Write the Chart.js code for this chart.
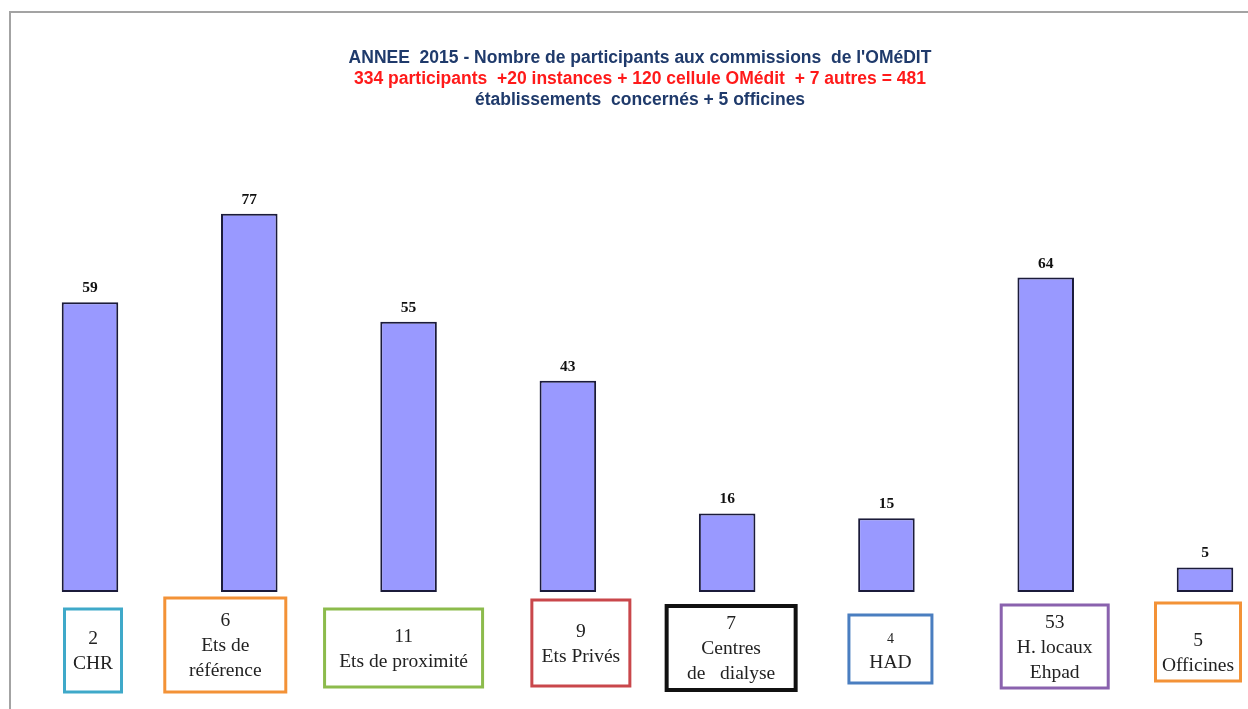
<!DOCTYPE html>
<html>
<head>
<meta charset="utf-8">
<script src="https://cdn.jsdelivr.net/npm/chart.js@4.4.1/dist/chart.umd.min.js"></script>
<style>
  html, body { margin: 0; padding: 0; background: #fff; overflow: hidden; }
  #wrap { position: relative; width: 1248px; height: 709px; }
</style>
</head>
<body>
<div id="wrap"><canvas id="graf" width="1248" height="709"></canvas></div>
<script>
// données
const categories = ["CHR", "Ets de référence", "Ets de proximité", "Ets Privés", "Centres de dialyse", "HAD", "H. locaux Ehpad", "Officines"];
const participants = [59, 77, 55, 43, 16, 15, 64, 5];
const etablissements = ["2", "6", "11", "9", "7", "4", "53", "5"];
const libelles = [["CHR"], ["Ets de", "référence"], ["Ets de proximité"], ["Ets Privés"], ["Centres", "de   dialyse"], ["HAD"], ["H. locaux", "Ehpad"], ["Officines"]];
const titres = [
  "ANNEE  2015 - Nombre de participants aux commissions  de l'OMéDIT",
  "334 participants  +20 instances + 120 cellule OMédit  + 7 autres = 481",
  "établissements  concernés + 5 officines"
];

// style des cadres sous les barres (décalage / taille / couleur)
const cadres = [
  { dx: 3, top: 609, w: 57, h: 83, color: "#3fa9c9", lw: 3 },
  { dx: -24, top: 598, w: 121, h: 94, color: "#f39237", lw: 3 },
  { dx: -5, top: 609, w: 158, h: 78, color: "#8cbb4c", lw: 3 },
  { dx: 13, top: 600, w: 98, h: 86, color: "#c9474b", lw: 3 },
  { dx: 4, top: 606, w: 129, h: 84, color: "#111111", lw: 4 },
  { dx: 4, top: 615, w: 83, h: 68, color: "#4a7ec0", lw: 3 },
  { dx: 9, top: 605, w: 107, h: 83, color: "#8a62ae", lw: 3 },
  { dx: -7, top: 603, w: 85, h: 78, color: "#f39237", lw: 3 }
];

const decor = {
  id: "decor",
  beforeDraw(chart) {
    const c = chart.ctx;
    c.save();
    c.fillStyle = "#fff";
    c.fillRect(0, 0, chart.width, chart.height);
    c.strokeStyle = "#a3a3a3";
    c.lineWidth = 2;
    c.beginPath();
    c.moveTo(10, 709);
    c.lineTo(10, 12);
    c.lineTo(1248, 12);
    c.stroke();
    c.restore();
  },
  afterDraw(chart) {
    const c = chart.ctx;
    const meta = chart.getDatasetMeta(0);
    c.save();
    // titre
    c.textAlign = "center";
    c.textBaseline = "alphabetic";
    c.font = "bold 17.5px 'Liberation Sans', Arial, sans-serif";
    const couleurs = ["#1f3a6b", "#ff1a1a", "#1f3a6b"];
    titres.forEach((t, i) => {
      c.fillStyle = couleurs[i];
      c.fillText(t, 640, 63 + i * 21);
    });
    // valeurs au-dessus des barres
    c.font = "bold 15.5px 'Liberation Serif', 'Times New Roman', serif";
    c.fillStyle = "#111";
    meta.data.forEach((bar, i) => {
      c.fillText(String(participants[i]), bar.x, bar.y - 10);
    });
    // cadres
    meta.data.forEach((bar, i) => {
      const s = cadres[i];
      const cx = bar.x + s.dx;
      c.strokeStyle = s.color;
      c.lineWidth = s.lw;
      c.strokeRect(cx - s.w / 2, s.top, s.w, s.h);
      const lignes = [etablissements[i]].concat(libelles[i]);
      const lh = 25;
      const y0 = s.top + s.h / 2 - (lignes.length - 1) * lh / 2 + 6 + (i === 7 ? 10 : 0);
      c.fillStyle = "#222";
      lignes.forEach((l, j) => {
        c.font = (i === 5 && j === 0 ? "14px" : "19.5px") + " 'Liberation Serif', 'Times New Roman', serif";
        c.fillText(l, cx, y0 + j * lh);
      });
    });
    c.restore();
  }
};

new Chart(document.getElementById("graf"), {
  type: "bar",
  data: {
    labels: categories,
    datasets: [{
      data: participants,
      backgroundColor: "#9999ff",
      borderColor: "#1b1b3a",
      borderWidth: 2,
      borderSkipped: false,
      categoryPercentage: 1,
      barPercentage: 0.355,
      clip: false
    }]
  },
  options: {
    responsive: false,
    animation: false,
    devicePixelRatio: 1,
    layout: { padding: { top: 199, bottom: 117, left: 90, right: 43 } },
    plugins: { legend: { display: false }, tooltip: { enabled: false }, title: { display: false } },
    scales: {
      x: { display: false, offset: false },
      y: { display: false, min: 0, max: 80 }
    }
  },
  plugins: [decor]
});
</script>
</body>
</html>
